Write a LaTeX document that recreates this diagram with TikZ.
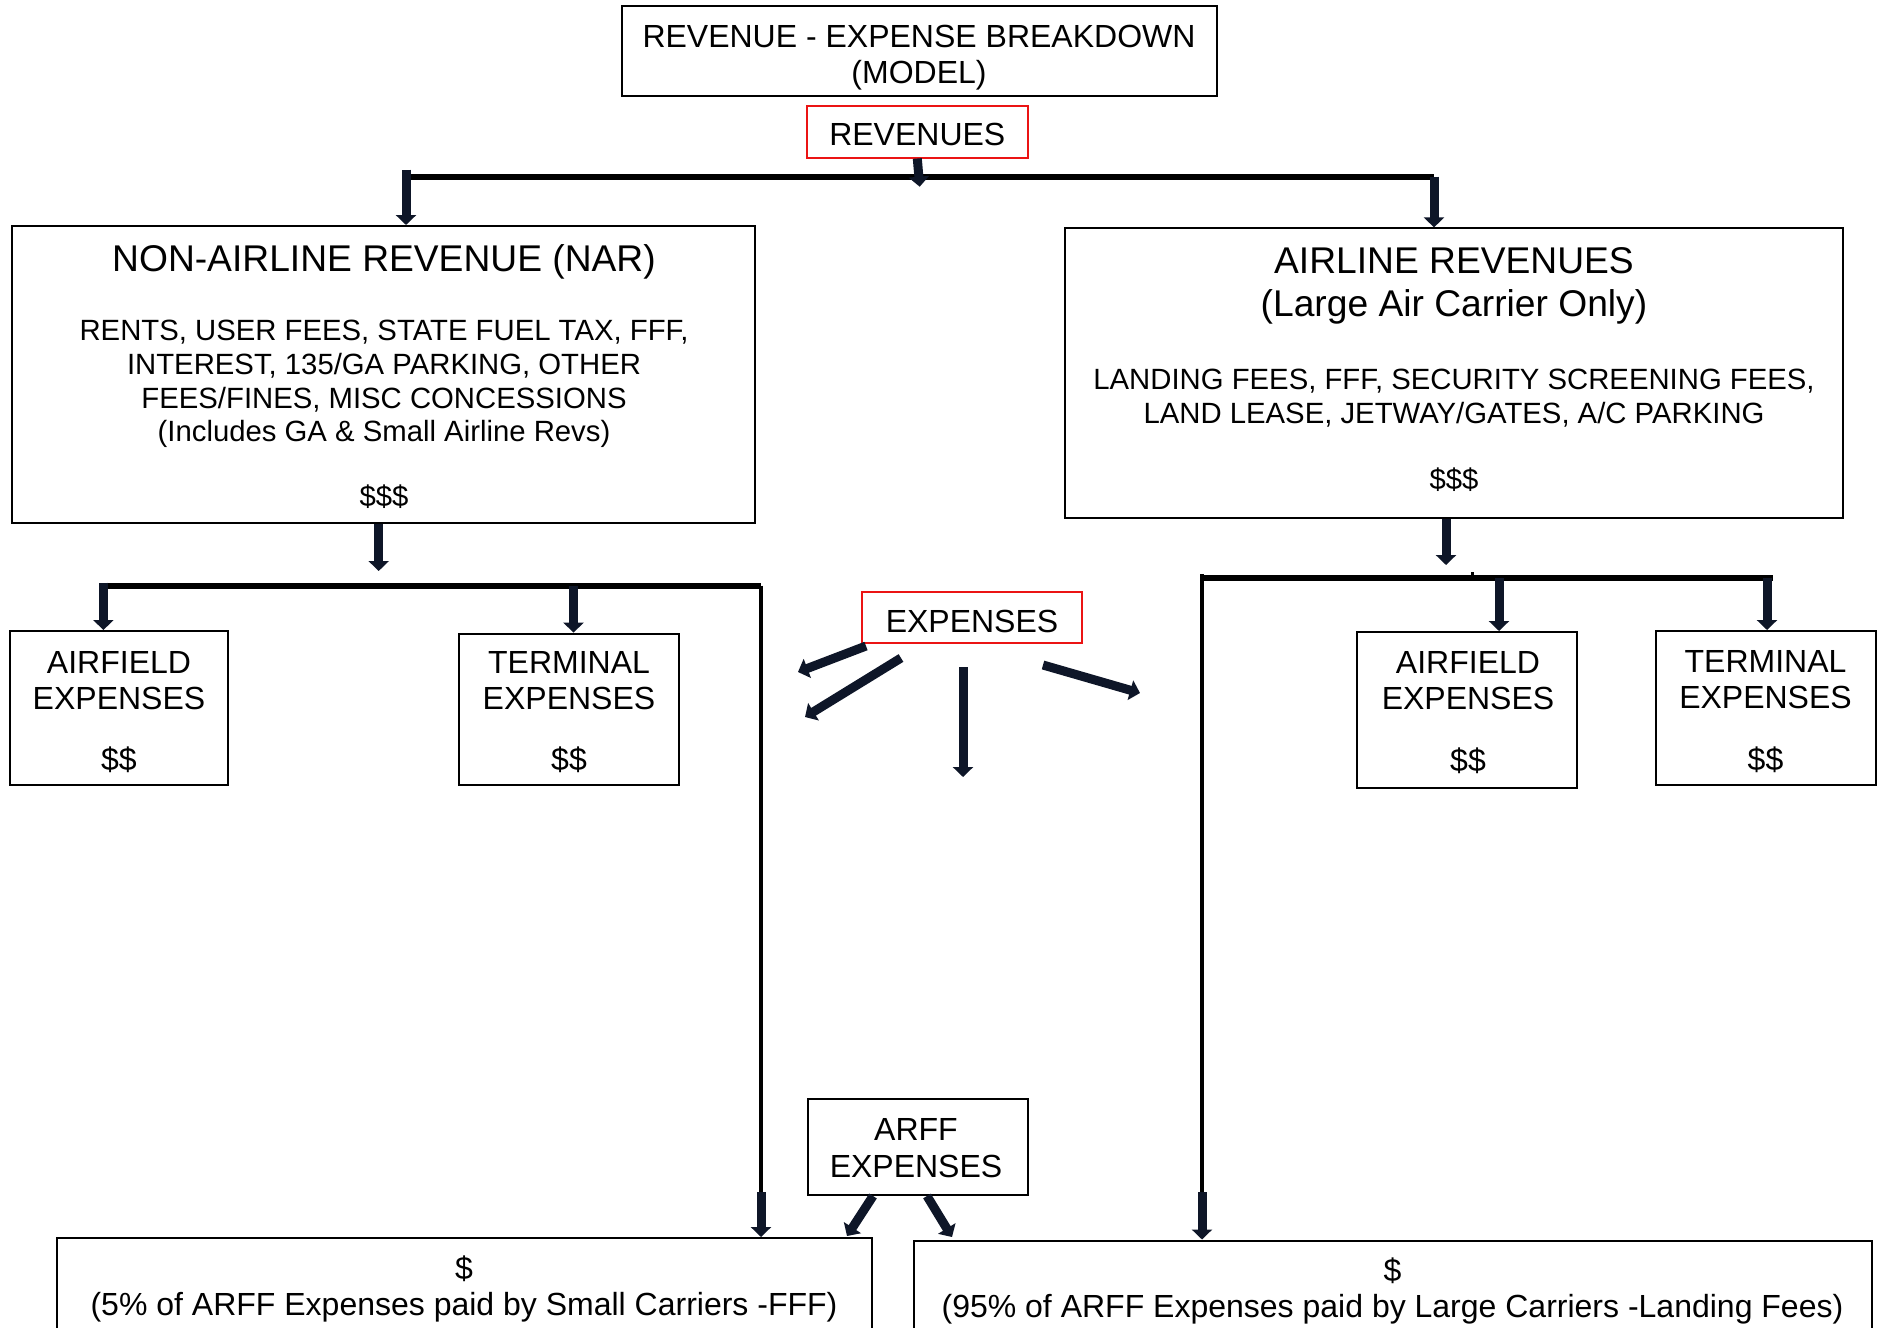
\documentclass[tikz,border=0pt]{standalone}
\usepackage{fontspec}
\setmainfont{Liberation Sans}
\usetikzlibrary{arrows.meta,calc}
\newcommand\fsStd{\fontsize{16pt}{19pt}\selectfont}
\newcommand\fsBody{\fontsize{14.65pt}{17pt}\selectfont}
\newcommand\fsHead{\fontsize{18.6pt}{22pt}\selectfont}
\definecolor{arrowc}{RGB}{14,22,40}
\definecolor{boxred}{RGB}{235,20,20}
\tikzset{
  boxst/.style={draw=black, line width=1pt, inner sep=0pt, fill=none},
  redbox/.style={draw=boxred, line width=1pt, inner sep=0pt},
  tstd/.style={inner sep=0pt, anchor=base, font=\fsStd},
  tbody/.style={inner sep=0pt, anchor=base, font=\fsBody},
  thead/.style={inner sep=0pt, anchor=base, font=\fsHead},
  bar/.style={line width=3pt, black},
  thinbar/.style={line width=2pt, black},
  barrow/.style={line width=4.5pt, draw=arrowc, -{Triangle[width=10pt,length=5pt]}},
}
\begin{document}
\begin{tikzpicture}[x=0.5pt,y=-0.5pt]
\useasboundingbox (0,0) rectangle (1885,1328);
\fill[white] (0,0) rectangle (1885,1328);
\clip (0,0) rectangle (1885,1328);

% ---------- boxes ----------
\node[boxst, minimum width=297.55pt, minimum height=45.1pt] (title) at (919.05,51.1) {};
\node[redbox, minimum width=110.6pt, minimum height=25.85pt] (rev) at (917.3,131.65) {};
\node[boxst, minimum width=371.5pt, minimum height=148.5pt] (nar) at (383.5,374.5) {};
\node[boxst, minimum width=389pt, minimum height=144.8pt] (air) at (1454,373.2) {};
\node[boxst, minimum width=109.4pt, minimum height=77pt] (laf) at (119,708) {};
\node[boxst, minimum width=110pt, minimum height=75.7pt] (lte) at (569,709.3) {};
\node[redbox, minimum width=110pt, minimum height=25.75pt] (exp) at (972,617.25) {};
\node[boxst, minimum width=110pt, minimum height=77.75pt] (raf) at (1467,709.75) {};
\node[boxst, minimum width=110pt, minimum height=77pt] (rte) at (1765.5,708) {};
\node[boxst, minimum width=110pt, minimum height=48pt] (arff) at (918,1147) {};
\node[boxst, minimum width=407.75pt, minimum height=61pt] (bl) at (464.25,1299) {};
\node[boxst, minimum width=479.25pt, minimum height=59.75pt] (br) at (1392.75,1300.25) {};

% ---------- texts ----------
\node[tstd] (title1) at (919,47.5) {REVENUE - EXPENSE BREAKDOWN};
\node[tstd] (title2) at (919,83.5) {(MODEL)};
\node[tstd] (revt) at (917.3,145.7) {REVENUES};

\node[thead] (nart) at (384,271.7) {NON-AIRLINE REVENUE (NAR)};
\node[tbody] (nar1) at (384,340.5) {RENTS, USER FEES, STATE FUEL TAX, FFF,};
\node[tbody] (nar2) at (384,374.5) {INTEREST, 135/GA PARKING, OTHER};
\node[tbody] (nar3) at (384,408) {FEES/FINES, MISC CONCESSIONS};
\node[tbody] (nar4) at (384,441.5) {(Includes GA \& Small Airline Revs)};
\node[tbody] (nar5) at (384,506) {\$\$\$};

\node[thead] (airt1) at (1454,273.3) {AIRLINE REVENUES};
\node[thead] (airt2) at (1454,316.5) {(Large Air Carrier Only)};
\node[tbody] (air1) at (1454,389.5) {LANDING FEES, FFF, SECURITY SCREENING FEES,};
\node[tbody] (air2) at (1454,423) {LAND LEASE, JETWAY/GATES, A/C PARKING};
\node[tbody] (air3) at (1454,489) {\$\$\$};

\node[tstd] (laf1) at (119,673) {AIRFIELD};
\node[tstd] (laf2) at (119,709.5) {EXPENSES};
\node[tstd] (laf3) at (119,770.5) {\$\$};
\node[tstd] (lte1) at (569,673) {TERMINAL};
\node[tstd] (lte2) at (569,709.5) {EXPENSES};
\node[tstd] (lte3) at (569,770.5) {\$\$};
\node[tstd] (raf1) at (1468,673.5) {AIRFIELD};
\node[tstd] (raf2) at (1468,709.5) {EXPENSES};
\node[tstd] (raf3) at (1468,771) {\$\$};
\node[tstd] (rte1) at (1765.5,672.5) {TERMINAL};
\node[tstd] (rte2) at (1765.5,708.5) {EXPENSES};
\node[tstd] (rte3) at (1765.5,770) {\$\$};

\node[tstd] (expt) at (972,632) {EXPENSES};
\node[tstd] (arff1) at (916,1140.5) {ARFF};
\node[tstd] (arff2) at (916,1177) {EXPENSES};

\node[tstd] (bl1) at (464,1279) {\$};
\node[tstd] (bl2) at (464,1315) {(5\% of ARFF Expenses paid by Small Carriers -FFF)};
\node[tstd] (br1) at (1392.5,1281.5) {\$};
\node[tstd] (br2) at (1392.5,1317.5) {(95\% of ARFF Expenses paid by Large Carriers -Landing Fees)};

% ---------- junction coordinates ----------
\coordinate (jtop) at (919.7,176.7);
\coordinate (jtl) at (406,176.7);
\coordinate (jtr) at (1434,176.7);
\coordinate (jtlstub) at (406,169.5);
\coordinate (jl1) at (103.4,585.5);
\coordinate (jl2) at (573.5,585.5);
\coordinate (jl3) at (761,585.5);
\coordinate (jl4) at (761,1192);
\coordinate (jr0) at (1202,578);
\coordinate (jrmid) at (1472.7,578);
\coordinate (jr1) at (1499,578);
\coordinate (jr2) at (1767,578);
\coordinate (jr3) at (1773,578);
\coordinate (jr4) at (1202,1192);

% ---------- bars ----------
\draw[bar] (jtl) -- (jtr);
\draw[bar] (jl1) -- (jl3);
\draw[thinbar] (jl3) -- (jl4);
\draw[bar] (jr0) -- (jr3);
\draw[thinbar] ($(jr0)+(0,-4)$) -- (jr4);
\draw[line width=1.5pt] ($(jrmid)+(0,-6)$) -- (jrmid);

% ---------- arrows ----------
\draw[barrow] (rev.south) -- ($(jtop)+(0,10)$);
\draw[barrow] (jtlstub) -- (nar.north -| jtl);
\draw[barrow] (jtr) -- (air.north -| jtr);
\draw[barrow] (nar.south -| 378.7,0) -- (378.7,571);
\draw[barrow] ($(jl1)+(0,-3)$) -- (laf.north -| jl1);
\draw[barrow] (jl2) -- (lte.north -| jl2);
\draw[barrow] (air.south -| 1446,0) -- (1446,565);
\draw[barrow] (jr1) -- (raf.north -| jr1);
\draw[barrow] (jr2) -- (rte.north -| jr2);
\draw[barrow] (jl4) -- (bl.north -| jl4);
\draw[barrow] (jr4) -- (br.north -| jr4);

% expenses fan
\coordinate (e1s) at (866,646);  \coordinate (e1e) at (798,672);
\coordinate (e2s) at (901,658);  \coordinate (e2e) at (805,717);
\coordinate (e3s) at (963,667);  \coordinate (e3e) at (963,777);
\coordinate (e4s) at (1043,665); \coordinate (e4e) at (1140,693);
\draw[barrow] (e1s) -- (e1e);
\draw[barrow] (e2s) -- (e2e);
\draw[barrow] (e3s) -- (e3e);
\draw[barrow] (e4s) -- (e4e);

% ARFF arrows
\draw[barrow] (arff.south -| 873,0) -- (847,1236);
\draw[barrow] (arff.south -| 927,0) -- (952,1237);
\end{tikzpicture}
\end{document}
